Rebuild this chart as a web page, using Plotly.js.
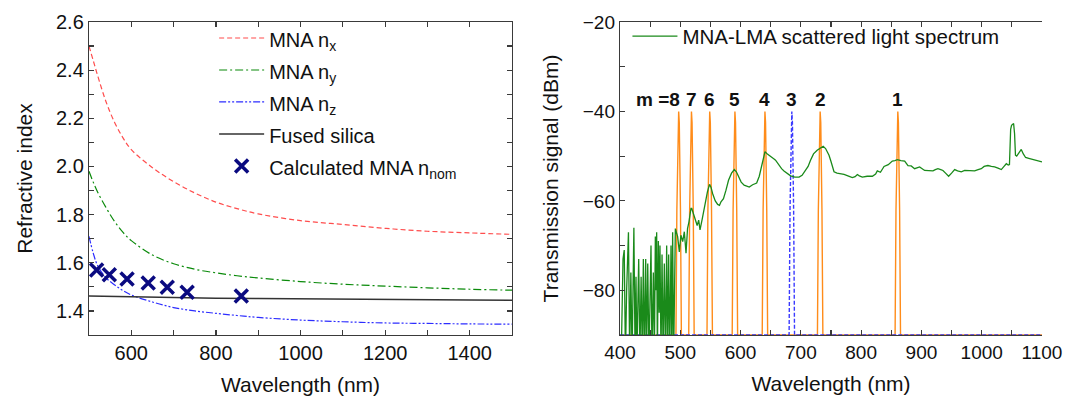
<!DOCTYPE html>
<html><head><meta charset="utf-8">
<script src="https://cdn.plot.ly/plotly-3.0.1.min.js"></script>
<style>html,body{margin:0;padding:0;background:#fff;}#chart{width:1069px;height:397px;}</style>
</head><body><div id="chart"></div>
<script>
// ---------- Left panel: refractive index dispersion ----------
const wlDisp = [500,510,520,540,560,580,600,650,700,750,800,850,900,1000,1100,1200,1300,1400,1500];
const nX = [2.50,2.44,2.38,2.27,2.185,2.12,2.07,1.995,1.937,1.89,1.852,1.825,1.803,1.775,1.759,1.743,1.731,1.724,1.718];
const nY = [1.98,1.935,1.895,1.83,1.773,1.727,1.692,1.632,1.596,1.573,1.558,1.546,1.537,1.522,1.511,1.503,1.496,1.490,1.486];
const nZ = [1.71,1.64,1.59,1.538,1.509,1.485,1.466,1.437,1.414,1.400,1.390,1.381,1.373,1.362,1.355,1.350,1.348,1.346,1.345];
const wlSilica = [500,600,700,800,900,1000,1200,1400,1500];
const nSilica = [1.462,1.458,1.455,1.453,1.452,1.450,1.448,1.445,1.444];
const wlCalc = [518,548,590,640,685,732,860];
const nCalc = [1.570,1.550,1.533,1.516,1.498,1.478,1.462];

// ---------- Right panel: scattered light spectrum ----------
const wlSpec = [400,402,405,407,409,411,414,416,418,420,423,425,426.5,428,431,433,435,437,438.7,440.5,442.6,444,446,448,451.4,453,455.3,457,458.6,460,460.8,462,463.6,465,466.3,468,469.7,471.5,473.5,475.5,477.4,479,480.7,482.5,484.6,486,487.3,489,
  491.8,495.6,498.4,501,504,506.7,509.5,512,514.4,517.7,519,523,526,528,530.5,532.7,536,541.5,545,548.5,551,553.7,558,562,565,567.5,571.6,575.8,580,585,589.6,593,597.3,601,605.9,611,614.4,620,626.7,631,636,640.5,645,650,655,658,663.8,668,672,677,683,690,697,702,708,712,716,721,727,733,737,741,746.7,750,755,760,765,771.6,778,785.4,790,793.7,797,802,810,818.6,824,826.8,832,838,845,851.7,856,860,866,872.2,877.7,883,888.7,893,897,905.3,912,919.1,923,927.4,932,935.7,940,945.1,950,955.1,960,966.1,971.7,980,988.2,994,999.3,1004,1010.4,1016,1021.4,1027,1032.5,1037,1040.8,1044,1046,1048,1049.5,1052.9,1054.5,1056,1058,1062,1065.6,1069,1072.8,1078,1085,1092,1100];
const dBmSpec = [-95,-95,-73,-71,-95,-80,-67,-95,-76,-95,-66,-95,-77,-95,-73,-95,-77,-95,-73,-95,-73,-95,-74,-95,-70,-95,-76,-95,-68,-80,-67,-95,-69,-85,-70,-95,-72,-95,-74,-95,-70,-95,-72,-95,-70,-95,-67,-95,
  -66.2,-68.0,-71.4,-67.7,-69.1,-66.9,-71.7,-66.2,-64.7,-61.7,-61.7,-63.6,-64.5,-65.5,-64.3,-66.5,-64.3,-60.2,-58.0,-56.3,-57.0,-58.4,-60.0,-60.8,-61.0,-60.2,-59.5,-57.6,-55.4,-53.8,-53.0,-53.5,-54.7,-55.8,-56.5,-56.7,-56.9,-56.4,-56.0,-54.5,-51.7,-49.0,-49.6,-50.2,-50.6,-50.9,-52.1,-52.8,-53.3,-53.9,-54.4,-54.7,-54.7,-54.3,-53.2,-52.3,-50.9,-49.5,-48.7,-48.2,-47.8,-48.3,-49.8,-51.2,-53.5,-53.8,-53.9,-54.1,-54.4,-54.8,-54.6,-54.1,-54.4,-54.7,-54.5,-54.5,-54.0,-53.3,-53.6,-52.3,-51.9,-51.1,-51.0,-50.8,-51.0,-51.1,-52.1,-52.2,-52.8,-52.6,-52.4,-53.2,-53.3,-53.3,-53.0,-52.8,-53.0,-53.2,-53.8,-54.5,-53.8,-53.0,-53.3,-53.5,-53.2,-53.3,-53.3,-53.0,-52.8,-52.3,-52.1,-52.3,-52.4,-52.7,-53.0,-52.3,-51.7,-52.0,-51.9,-44.0,-43.1,-42.7,-45.0,-49.8,-50.0,-49.2,-48.5,-49.5,-50.3,-50.5,-50.8,-51.0,-51.3];

// mode resonances (m = 8 ... 1); m = 3 drawn dashed blue
const modeLabels = ['m =8','7','6','5','4','3','2','1'];
const modeWl = [497.3,518.5,548.8,590.6,640.4,685.0,732.0,860.8];
const peakBase = -90;
// line shape of one resonance (offset nm, level dBm)
const profOffset = [-4.5,-3,-2,-1,0,1,2,3,4.5];
const profLevel  = [-90,-62,-50,-42.5,-40,-42.5,-50,-62,-90];

function buildPeaks(centres){
  const xs=[400], ys=[peakBase];
  centres.forEach(c=>{ profOffset.forEach((o,i)=>{ xs.push(c+o); ys.push(profLevel[i]); }); });
  xs.push(1100); ys.push(peakBase);
  return {xs, ys};
}
const orangeModes = modeWl.filter((w,i)=>modeLabels[i]!=='3');
const blueModes = modeWl.filter((w,i)=>modeLabels[i]==='3');
const pO = buildPeaks(orangeModes), pB = buildPeaks(blueModes);

const FONT = 'Liberation Sans, Arial, sans-serif';
const lg = (s)=>'<span style="font-size:20px">'+s+'</span>';
const traces = [
  {x: wlDisp, y: nX, name: lg('MNA n<sub>x</sub>'), mode:'lines', line:{color:'#ff4d4d', width:1.2, dash:'5px,3px', shape:'spline'}, xaxis:'x', yaxis:'y'},
  {x: wlDisp, y: nY, name: lg('MNA n<sub>y</sub>'), mode:'lines', line:{color:'#0a8a0a', width:1.2, dash:'8px,3px,2px,3px', shape:'spline'}, xaxis:'x', yaxis:'y'},
  {x: wlDisp, y: nZ, name: lg('MNA n<sub>z</sub>'), mode:'lines', line:{color:'#2d2dff', width:1.2, dash:'7px,2px,2px,2px,2px,2px', shape:'spline'}, xaxis:'x', yaxis:'y'},
  {x: wlSilica, y: nSilica, name: lg('Fused silica'), mode:'lines', line:{color:'#333333', width:1.5}, xaxis:'x', yaxis:'y'},
  {x: wlCalc, y: nCalc, name: lg('Calculated MNA n<sub>nom</sub>'), mode:'markers', marker:{symbol:'x-thin', size:13, line:{color:'#0a0a80', width:3.5}, color:'#0a0a80'}, xaxis:'x', yaxis:'y'},
  {x: pO.xs, y: pO.ys, mode:'lines', line:{color:'#ff8c1a', width:1.4}, showlegend:false, xaxis:'x2', yaxis:'y2'},
  {x: pB.xs, y: pB.ys, mode:'lines', line:{color:'#3a3aff', width:1.4, dash:'4px,2px'}, showlegend:false, xaxis:'x2', yaxis:'y2'},
  {x: wlSpec, y: dBmSpec, name: 'MNA-LMA scattered light spectrum', mode:'lines', line:{color:'#1a8a1a', width:1.3}, xaxis:'x2', yaxis:'y2', legend:'legend2'}
];

const axBase = {showline:true, linecolor:'#3a3a3a', linewidth:1.2, ticks:'inside', ticklen:5, tickwidth:1.2, tickcolor:'#3a3a3a',
  mirror:'ticks', showgrid:false, zeroline:false, tickfont:{size:20, color:'#111', family:FONT}};
const minorT = (d)=>({dtick:d, ticks:'inside', ticklen:5, tickcolor:'#3a3a3a'});
const annots = modeLabels.map((t,i)=>({x: modeWl[i], y: -37.3, xref:'x2', yref:'y2', text:'<b>'+t+'</b>', showarrow:false,
  xanchor: i===0 ? 'right':'center', xshift: i===0 ? 3 : 0, font:{size:19, family:FONT, color:'#111'}}));

const layout = {
  width:1069, height:397, paper_bgcolor:'#fff', plot_bgcolor:'#fff',
  margin:{l:89, r:27, t:22, b:62},
  font:{family:FONT, color:'#111'},
  xaxis: Object.assign({}, axBase, {domain:[0,0.4439], range:[500,1500], dtick:200, tick0:0, minor:minorT(100),
    title:{text:'Wavelength (nm)', font:{size:21, family:FONT}, standoff:14}, anchor:'y'}),
  yaxis: Object.assign({}, axBase, {domain:[0,1], range:[1.3,2.6], dtick:0.2, tick0:0, tickformat:'.1f', minor:minorT(0.1),
    title:{text:'Refractive index', font:{size:21, family:FONT}, standoff:17}, anchor:'x'}),
  xaxis2: Object.assign({}, axBase, {domain:[0.5572,1], range:[400,1100], dtick:100, tick0:0, minor:minorT(50),
    tickfont:{size:19, color:'#111', family:FONT},
    title:{text:'Wavelength (nm)', font:{size:21, family:FONT}, standoff:14}, anchor:'y2'}),
  yaxis2: Object.assign({}, axBase, {domain:[0,1], range:[-90,-20], dtick:20, tick0:0, mirror:false, minor:minorT(10),
    tickfont:{size:19, color:'#111', family:FONT},
    title:{text:'Transmission signal (dBm)', font:{size:21, family:FONT}, standoff:18}, anchor:'x2'}),
  yaxis3: {overlaying:'y2', side:'right', anchor:'x2', range:[0,10], dtick:2, showticklabels:false, ticks:'inside', ticklen:6, tickwidth:1.2, tickcolor:'#3a3a3a',
    showline:true, linecolor:'#3a3a3a', linewidth:1.2, showgrid:false, zeroline:false, minor:{dtick:1, ticks:'inside', ticklen:3, tickcolor:'#3a3a3a'}},
  legend: {x:0.1313, y:1.016, xanchor:'left', yanchor:'top', bgcolor:'rgba(0,0,0,0)', font:{size:22.3, family:FONT, color:'#111'}, itemwidth:45},
  legend2: {x:0.565, y:1.018, xanchor:'left', yanchor:'top', bgcolor:'rgba(0,0,0,0)', font:{size:20.5, family:FONT, color:'#111'}, itemwidth:45},
  annotations: annots,
  showlegend:true
};
Plotly.newPlot('chart', traces, layout, {displayModeBar:false, staticPlot:true});
</script></body></html>
